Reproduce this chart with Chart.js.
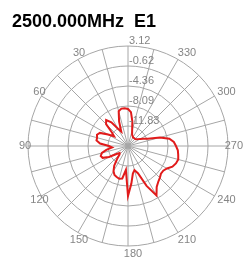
<!DOCTYPE html>
<html>
<head>
<meta charset="utf-8">
<script src="https://cdn.jsdelivr.net/npm/chart.js@4"></script>
<style>
  html, body { margin: 0; padding: 0; background: #fff; }
</style>
</head>
<body>
<canvas id="pattern" width="244" height="257"></canvas>
<script>
const title = '2500.000MHz  E1';

// pattern angle (counter-clockwise from top) and level in dB
const angleDeg = [0, 5, 10, 15, 20, 25, 30, 35, 40, 45, 50, 55,
  60, 65, 70, 75, 80, 85, 90, 95, 100, 105, 110, 115,
  120, 125, 130, 135, 140, 145, 150, 155, 160, 165, 170, 175,
  180, 185, 190, 195, 200, 205, 210, 215, 220, 225, 230, 235,
  240, 245, 250, 255, 260, 265, 270, 275, 280, 285, 290, 295,
  300, 305, 310, 315, 320, 325, 330, 335, 340, 345, 350, 355];
const gainDb = [-8.65, -8.47, -8.47, -8.84, -10.71, -12.58, -11.83, -10.15, -9.22, -9.78, -11.65, -12.39,
  -11.27, -9.78, -9.40, -9.59, -9.59, -10.34, -12.02, -12.58, -11.46, -10.52, -10.15, -10.34,
  -11.46, -12.95, -13.51, -13.33, -12.39, -11.08, -10.15, -9.59, -9.40, -9.22, -9.40, -11.08,
  -6.22, -8.47, -10.34, -10.90, -10.15, -7.35, -4.92, -6.22, -6.79, -7.16, -7.53, -7.53,
  -7.16, -6.41, -6.04, -5.85, -6.04, -6.22, -6.60, -6.97, -7.72, -9.40, -11.65, -12.39,
  -12.95, -13.33, -13.61, -13.70, -13.70, -13.70, -13.70, -13.51, -13.33, -12.58, -10.90, -9.22];

const ringValues = [-15.57, -11.83, -8.09, -4.36, -0.62, 3.12];
const ringLabels = ['-15.57', '-11.83', '-8.09', '-4.36', '-0.62', '3.12'];
const angleLabels = [30, 60, 90, 120, 150, 180, 210, 240, 270, 300, 330];

// radar runs clockwise, the plot is labelled counter-clockwise
const n = angleDeg.length;
const order = angleDeg.map((a, i) => (n - i) % n);
const labels = order.map(k => angleDeg[k]);
const values = order.map(k => gainDb[k]);

const rMin = ringValues[0];
const rMax = ringValues[ringValues.length - 1];
const grey = '#a6a6a6';

const textPlugin = {
  id: 'patternText',
  afterDraw(chart) {
    const ctx = chart.ctx;
    const r = chart.scales.r;
    ctx.save();

    ctx.fillStyle = '#000';
    ctx.font = 'bold 18px "Liberation Sans", Arial, sans-serif';
    ctx.textAlign = 'left';
    ctx.textBaseline = 'alphabetic';
    ctx.fillText(title, 12, 27);

    ctx.fillStyle = '#858585';
    ctx.font = '11px "Liberation Sans", Arial, sans-serif';
    r.ticks.forEach((t, i) => {
      if (i === 0) return;
      const y = r.yCenter - r.getDistanceFromCenterForValue(t.value);
      ctx.fillText(ringLabels[i], r.xCenter + 1, y - 2);
    });

    ctx.textAlign = 'center';
    ctx.textBaseline = 'middle';
    labels.forEach((a, i) => {
      if (!angleLabels.includes(a)) return;
      const text = String(a);
      const half = ctx.measureText(text).width / 2;
      const p = r.getPointPosition(i, r.drawingArea + 8);
      const x = Math.min(p.x + 5, chart.width - 1 - half);
      ctx.fillText(text, x, p.y);
    });
    ctx.restore();
  }
};

new Chart('pattern', {
  type: 'radar',
  data: {
    labels: labels,
    datasets: [{
      data: values,
      borderColor: '#e11b1b',
      borderWidth: 2,
      pointRadius: 0,
      fill: false,
      tension: 0
    }]
  },
  options: {
    responsive: false,
    animation: false,
    layout: { padding: { left: 28, right: 16, top: 46, bottom: 11 } },
    plugins: {
      legend: { display: false },
      tooltip: { enabled: false }
    },
    scales: {
      r: {
        min: rMin,
        max: rMax,
        ticks: { display: false, stepSize: (rMax - rMin) / (ringValues.length - 1) },
        pointLabels: { display: false },
        grid: { circular: true, color: grey, lineWidth: 1 },
        angleLines: {
          color: ctx => (labels[ctx.index] % 15 === 0 ? grey : null),
          lineWidth: 1
        }
      }
    }
  },
  plugins: [textPlugin]
});
</script>
</body>
</html>
